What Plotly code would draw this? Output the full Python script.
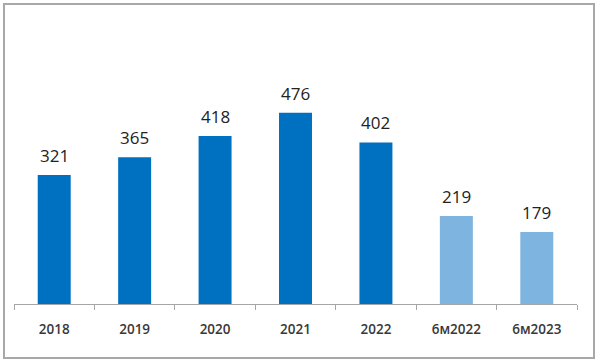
import plotly.graph_objects as go

categories = ["2018", "2019", "2020", "2021", "2022", "6м2022", "6м2023"]
values = [321, 365, 418, 476, 402, 219, 179]
bar_colors = ["#0070C0", "#0070C0", "#0070C0", "#0070C0", "#0070C0", "#7EB4E0", "#7EB4E0"]

W, H = 599, 362
ml, mr, mt, mb = 14, 22, 30, 58
ph = H - mt - mb
pw = W - ml - mr
FONT = "Open Sans, Liberation Sans, sans-serif"

fig = go.Figure()
fig.add_trace(go.Bar(
    x=categories, y=values,
    marker=dict(color=bar_colors, line=dict(width=0)),
    width=0.41,
    cliponaxis=False,
    hoverinfo="skip",
))

# value labels, positioned by category index on the category axis
for i, v in enumerate(values):
    fig.add_annotation(
        x=i, y=v, text=str(v), showarrow=False,
        yanchor="bottom", yshift=6,
        font=dict(family=FONT, size=17, color="#222222"),
    )

fig.update_layout(
    width=W, height=H,
    margin=dict(l=ml, r=mr, t=mt, b=mb, autoexpand=False),
    paper_bgcolor="white", plot_bgcolor="white",
    showlegend=False,
    xaxis=dict(
        type="category", automargin=False,
        categoryorder="array", categoryarray=categories,
        range=[-0.5, len(categories) - 0.5],
        showline=True, linecolor="#A6A6A6", linewidth=1,
        ticks="outside", tickson="boundaries", ticklen=5, tickcolor="#A6A6A6",
        tickfont=dict(family=FONT, size=13.5, color="#383838", weight=600),
        showgrid=False, zeroline=False,
        ticklabelstandoff=13,
    ),
    yaxis=dict(
        range=[0, ph / 0.402], automargin=False,
        visible=False, showgrid=False, zeroline=False,
    ),
)

def px_to_paper_x(px):
    return (px - ml) / pw

def px_to_paper_y(py):
    return (H - mb - py) / ph

fig.add_shape(
    type="rect", xref="paper", yref="paper",
    x0=px_to_paper_x(4), x1=px_to_paper_x(594),
    y0=px_to_paper_y(358), y1=px_to_paper_y(4),
    line=dict(color="#A8A8A8", width=2), fillcolor="rgba(0,0,0,0)",
    layer="below",
)

fig.write_html(
    "out.html",
    config={"displayModeBar": False},
    post_script="document.body.style.margin='0';document.body.style.overflow='hidden';",
)
